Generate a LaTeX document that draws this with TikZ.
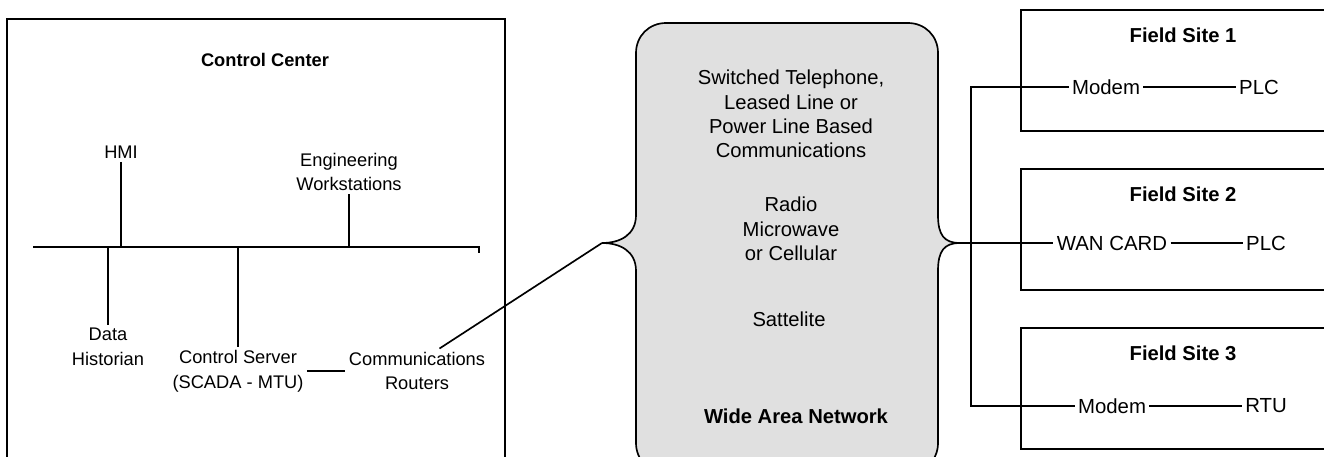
\documentclass[tikz,border=0pt]{standalone}
\usepackage{fontspec}
\setmainfont{Liberation Sans}
\usetikzlibrary{positioning}
\definecolor{wanfill}{gray}{0.88}

\begin{document}
\begin{tikzpicture}[x=0.02cm,y=-0.02cm,line width=0.95pt,
	lbl/.style={align=center,inner sep=1.5pt,font=\fontsize{10.4}{14}\selectfont},
	wtxt/.style={align=center,font=\fontsize{11.5}{13.8}\selectfont},
	site/.style={inner sep=1.5pt,font=\fontsize{11.6}{13.8}\selectfont},
	cchead/.style={font=\fontsize{10.4}{13}\selectfont\bfseries},
	sitehead/.style={font=\fontsize{11.5}{13.8}\selectfont\bfseries}]
	\clip (0,0) rectangle (1324,456);
	\pgfmathsetmacro\WL{636}
	\pgfmathsetmacro\WR{938}
	\pgfmathsetmacro\WT{23}
	\pgfmathsetmacro\WB{473}
	\coordinate (busL) at (33,247);
	\coordinate (busR) at (479,247);
	\coordinate (wanL) at (602,243);
	\coordinate (wanR) at (960,243);
	\coordinate (trunk) at (971,243);
	
	\draw (7,480) -- (7,19) -- (505,19) -- (505,480);
	\node[cchead] (cc) at (265,60) {Control Center};
	\draw (busL) -- (busR) -- ++(0,6);
	
	\node[lbl] (hmi) at (121,152) {HMI};
	\node[lbl] (eng) at (349,172) {Engineering\\Workstations};
	\node[lbl] (hist) at (108,347) {Data\\Historian};
	\node[lbl] (srv) at (238,371) {Control Server\\(SCADA - MTU)};
	\node[lbl] (rtr) at (417,371) {Communications\\Routers};
	
	\draw (hmi.south) -- (hmi.south |- busL);
	\draw (eng.south) -- (eng.south |- busL);
	\draw (hist.north) -- (hist.north |- busL);
	\draw (srv.north) -- (srv.north |- busL);
	\draw (srv.east) -- (rtr.west);
	\draw (rtr.45) -- (wanL);
	
	\filldraw[fill=wanfill] (\WL+30,\WT) -- (\WR-30,\WT)
		.. controls (\WR-13,\WT) and (\WR,\WT+13) .. (\WR,\WT+30)
		-- (\WR,215)
		.. controls (\WR,235) and (944,243) .. (wanR)
		.. controls (944,243) and (\WR,251) .. (\WR,271)
		-- (\WR,\WB-30)
		.. controls (\WR,\WB-13) and (\WR-13,\WB) .. (\WR-30,\WB)
		-- (\WL+30,\WB)
		.. controls (\WL+13,\WB) and (\WL,\WB-13) .. (\WL,\WB-30)
		-- (\WL,271)
		.. controls (\WL,251) and (620,243) .. (wanL)
		.. controls (620,243) and (\WL,235) .. (\WL,215)
		-- (\WL,\WT+30)
		.. controls (\WL,\WT+13) and (\WL+13,\WT) .. (\WL+30,\WT) -- cycle;
	
	\node[wtxt] (media1) at (791,114) {Switched Telephone,\\Leased Line or\\Power Line Based\\Communications};
	\node[wtxt] (media2) at (791,229) {Radio\\Microwave\\or Cellular};
	\node[wtxt] (media3) at (789,319) {Sattelite};
	\node[sitehead] (wan) at (796,416) {Wide Area Network};
	
	\foreach \s/\y in {1/10,2/169,3/328}{
		\draw (1021,\y) rectangle (1340,\y+121);
		\node[sitehead] (fs\s) at (1183,\y+25) {Field Site \s};
	}
	
	\node[site] (mod1) at (1106,87) {Modem};
	\node[site] (plc1) at (1259,87) {PLC};
	\node[site] (card2) at (1112,243) {WAN CARD};
	\node[site] (plc2) at (1266,243) {PLC};
	\node[site] (mod3) at (1112,406) {Modem};
	\node[site] (rtu3) at (1266,406) {RTU};
	
	\draw (mod1) -- (plc1);
	\draw (card2) -- (plc2);
	\draw (mod3) -- (rtu3);
	\draw (mod1.west) -- (mod1.west -| trunk) -- (mod3.west -| trunk) -- (mod3.west);
	\draw (wanR) -- (card2.west);
\end{tikzpicture}
\end{document}
